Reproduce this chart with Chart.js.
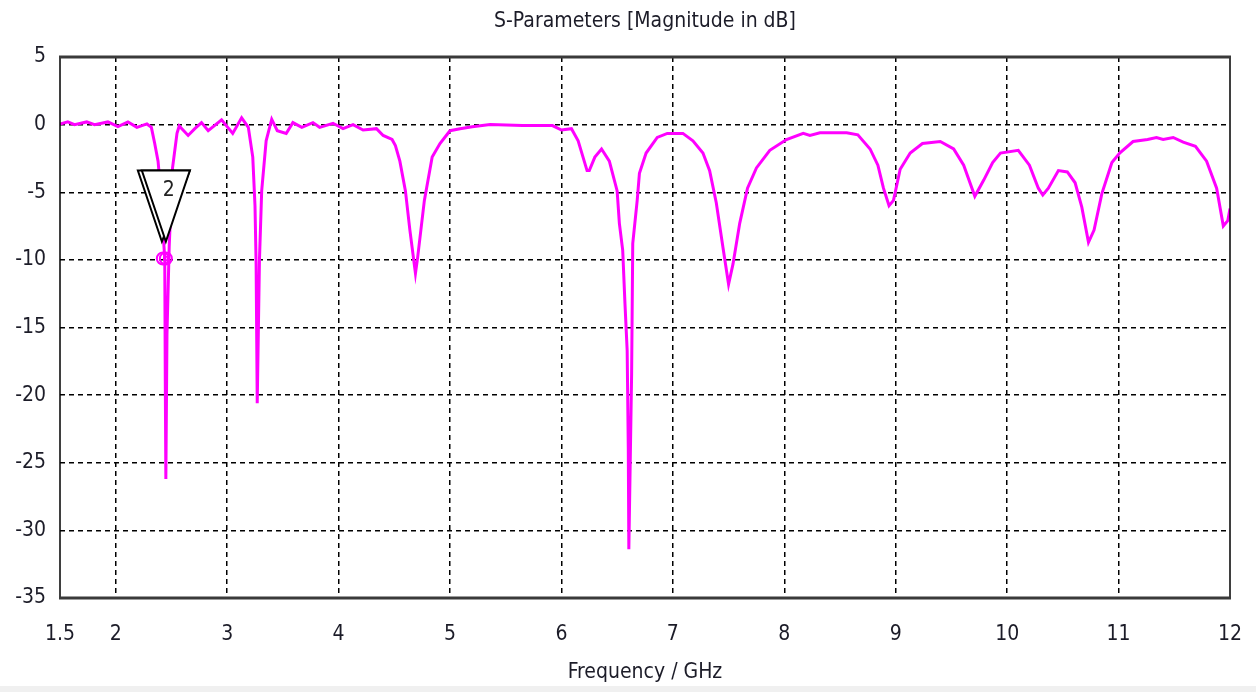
<!DOCTYPE html>
<html>
<head>
<meta charset="utf-8">
<script src="https://cdn.jsdelivr.net/npm/chart.js@4.4.1/dist/chart.umd.min.js"></script>
<style>
  html, body { margin: 0; padding: 0; background: #fff; overflow: hidden; }
  #wrap { width: 1256px; height: 692px; }
</style>
</head>
<body>
<div id="wrap"><canvas id="sparam"></canvas></div>
<script>
// frequency points (GHz) and S11 magnitude (dB)
const freq = [1.50, 1.57, 1.63, 1.74, 1.81, 1.93, 2.02, 2.11, 2.19, 2.28, 2.32, 2.35, 2.38, 2.41, 2.43, 2.44, 2.445, 2.45, 2.46, 2.48, 2.51, 2.55, 2.57, 2.65, 2.71, 2.77, 2.83, 2.95, 3.05, 3.13, 3.19, 3.23, 3.25, 3.26, 3.27, 3.29, 3.31, 3.35, 3.40, 3.45, 3.53, 3.59, 3.67, 3.77, 3.83, 3.95, 4.04, 4.13, 4.22, 4.34, 4.40, 4.48, 4.51, 4.55, 4.60, 4.64, 4.69, 4.71, 4.77, 4.84, 4.91, 5.00, 5.09, 5.20, 5.36, 5.65, 5.92, 6.00, 6.09, 6.15, 6.23, 6.25, 6.30, 6.36, 6.43, 6.50, 6.52, 6.55, 6.57, 6.59, 6.60, 6.605, 6.63, 6.64, 6.68, 6.70, 6.76, 6.86, 6.95, 7.09, 7.18, 7.27, 7.33, 7.39, 7.45, 7.50, 7.54, 7.60, 7.67, 7.75, 7.87, 8.02, 8.17, 8.23, 8.32, 8.56, 8.66, 8.77, 8.84, 8.89, 8.94, 8.98, 9.04, 9.13, 9.24, 9.40, 9.52, 9.61, 9.71, 9.79, 9.87, 9.94, 10.10, 10.20, 10.28, 10.32, 10.37, 10.46, 10.54, 10.61, 10.67, 10.73, 10.78, 10.85, 10.94, 11.01, 11.13, 11.26, 11.34, 11.40, 11.49, 11.58, 11.69, 11.79, 11.88, 11.94, 11.98, 12.00];
const s11 = [0.05, 0.2, 0.0, 0.2, 0.0, 0.2, -0.15, 0.2, -0.2, 0.05, -0.2, -1.4, -2.7, -5.5, -8.6, -9.9, -19, -26.2, -15.5, -9.0, -3.2, -0.65, -0.1, -0.8, -0.3, 0.15, -0.45, 0.35, -0.65, 0.5, -0.2, -2.4, -6, -10.3, -20.6, -10, -4.9, -1.2, 0.4, -0.45, -0.65, 0.15, -0.2, 0.15, -0.2, 0.1, -0.3, 0.0, -0.4, -0.3, -0.8, -1.1, -1.55, -2.7, -4.9, -7.8, -11.0, -9.8, -5.6, -2.4, -1.4, -0.45, -0.3, -0.15, 0.0, -0.07, -0.07, -0.4, -0.3, -1.2, -3.4, -3.4, -2.4, -1.8, -2.7, -4.9, -7.3, -9.3, -13.2, -16.7, -23.9, -31.4, -18.4, -8.8, -5.6, -3.6, -2.1, -0.95, -0.65, -0.65, -1.2, -2.1, -3.4, -5.8, -9.1, -11.8, -10.3, -7.3, -4.7, -3.2, -1.9, -1.1, -0.65, -0.8, -0.6, -0.6, -0.75, -1.8, -3.0, -4.7, -6.0, -5.6, -3.3, -2.1, -1.4, -1.25, -1.8, -3.0, -5.3, -4.1, -2.8, -2.1, -1.9, -3.0, -4.7, -5.2, -4.7, -3.4, -3.5, -4.3, -6.1, -8.7, -7.8, -5.1, -2.8, -2.1, -1.25, -1.1, -0.95, -1.1, -0.95, -1.3, -1.6, -2.7, -4.7, -7.5, -7.1, -6.2];

const xTicks = [1.5, 2, 3, 4, 5, 6, 7, 8, 9, 10, 11, 12];
const yTicks = [5, 0, -5, -10, -15, -20, -25, -30, -35];

const chartTitle = 'S-Parameters [Magnitude in dB]';

// marker 2
const markerLabel = "2";
const markerFreq = 2.45;
const markerDb = -9.9;

const FONT = "'DejaVu Sans Condensed', 'Liberation Sans Narrow', 'DejaVu Sans', sans-serif";
const TEXT = '#1c1c28';

const points = freq.map(function(f, i) { return { x: f, y: s11[i] }; });

// title (centred over the plot area), frame and marker
const extras = {
  id: 'extras',
  beforeDraw(chart) {
    const ctx = chart.ctx;
    const a = chart.chartArea;
    ctx.save();
    ctx.fillStyle = '#f0f0f0';
    ctx.fillRect(0, chart.height - 6, chart.width, 6);
    ctx.fillStyle = TEXT;
    ctx.font = '21px ' + FONT;
    ctx.textAlign = 'center';
    ctx.textBaseline = 'middle';
    ctx.fillText(chartTitle, (a.left + a.right) / 2, 22);
    ctx.restore();
  },
  afterDatasetsDraw(chart) {
    const ctx = chart.ctx;
    const a = chart.chartArea;
    const xs = chart.scales.x, ys = chart.scales.y;
    ctx.save();
    // frame
    ctx.strokeStyle = '#000';
    ctx.lineWidth = 1.5;
    ctx.beginPath();
    ctx.moveTo(a.left, a.top); ctx.lineTo(a.left, a.bottom);
    ctx.moveTo(a.right, a.top); ctx.lineTo(a.right, a.bottom);
    ctx.stroke();
    ctx.strokeStyle = '#3a3a3a';
    ctx.lineWidth = 3;
    ctx.beginPath();
    ctx.moveTo(a.left - 1, a.top); ctx.lineTo(a.right + 1, a.top);
    ctx.moveTo(a.left - 1, a.bottom); ctx.lineTo(a.right + 1, a.bottom);
    ctx.stroke();

    // marker circles
    const px = xs.getPixelForValue(markerFreq);
    const py = ys.getPixelForValue(markerDb);
    ctx.strokeStyle = '#ff00ff';
    ctx.lineWidth = 2;
    [-3, 0].forEach(function(dx) {
      ctx.beginPath(); ctx.arc(px + dx, py, 6, 0, Math.PI * 2); ctx.stroke();
    });
    ctx.beginPath(); ctx.arc(px, py, 2, 0, Math.PI * 2); ctx.stroke();

    // marker triangle (double outline, white inside)
    const tipY = py - 17;
    const topY = tipY - 71;
    ctx.strokeStyle = '#000';
    ctx.fillStyle = '#fff';
    ctx.lineWidth = 2;
    [-4, 0].forEach(function(dx) {
      ctx.beginPath();
      ctx.moveTo(px + dx, tipY);
      ctx.lineTo(px + dx - 24, topY);
      ctx.lineTo(px + 24, topY);
      ctx.closePath();
      ctx.fill();
      ctx.stroke();
    });
    ctx.fillStyle = '#222';
    ctx.font = '21px ' + FONT;
    ctx.textAlign = 'center';
    ctx.textBaseline = 'middle';
    ctx.fillText(markerLabel, px + 3, topY + 20);
    ctx.restore();
  }
};

new Chart(document.getElementById('sparam'), {
  type: 'line',
  data: {
    datasets: [{
      label: 'S1,1',
      data: points,
      borderColor: '#ff00ff',
      borderWidth: 3,
      pointRadius: 0,
      fill: false,
      tension: 0
    }]
  },
  options: {
    responsive: true,
    maintainAspectRatio: false,
    animation: false,
    layout: { padding: { left: 0, right: 26, top: 57, bottom: 0 } },
    plugins: {
      legend: { display: false },
      tooltip: { enabled: false },
      title: { display: false }
    },
    scales: {
      x: {
        type: 'linear',
        min: 1.5,
        max: 12,
        afterBuildTicks: function(scale) {
          scale.ticks = xTicks.map(function(v) { return { value: v }; });
        },
        afterFit: function(scale) {
          scale.height = 94;
          scale.paddingLeft = 0;
          scale.paddingRight = 0;
        },
        ticks: {
          color: TEXT,
          font: { family: FONT, size: 21 },
          padding: 24,
          maxRotation: 0,
          autoSkip: false,
          callback: function(v) { return String(v); }
        },
        grid: {
          drawTicks: false,
          lineWidth: 1.5,
          color: function(c) {
            const v = c.tick && c.tick.value;
            return (v === 1.5 || v === 12) ? 'rgba(0,0,0,0)' : '#000';
          }
        },
        border: { display: false, dash: [5, 4] },
        title: {
          display: true,
          text: 'Frequency / GHz',
          color: TEXT,
          font: { family: FONT, size: 21 },
          padding: { top: 0, bottom: 7 }
        }
      },
      y: {
        min: -35,
        max: 5,
        afterBuildTicks: function(scale) {
          scale.ticks = yTicks.map(function(v) { return { value: v }; });
        },
        afterFit: function(scale) { scale.width = 60; },
        ticks: {
          color: TEXT,
          font: { family: FONT, size: 21 },
          padding: 14
        },
        grid: {
          drawTicks: false,
          lineWidth: 1.5,
          color: function(c) {
            const v = c.tick && c.tick.value;
            return (v === 5 || v === -35) ? 'rgba(0,0,0,0)' : '#000';
          }
        },
        border: { display: false, dash: [5, 4] }
      }
    }
  },
  plugins: [extras]
});
</script>
</body>
</html>
